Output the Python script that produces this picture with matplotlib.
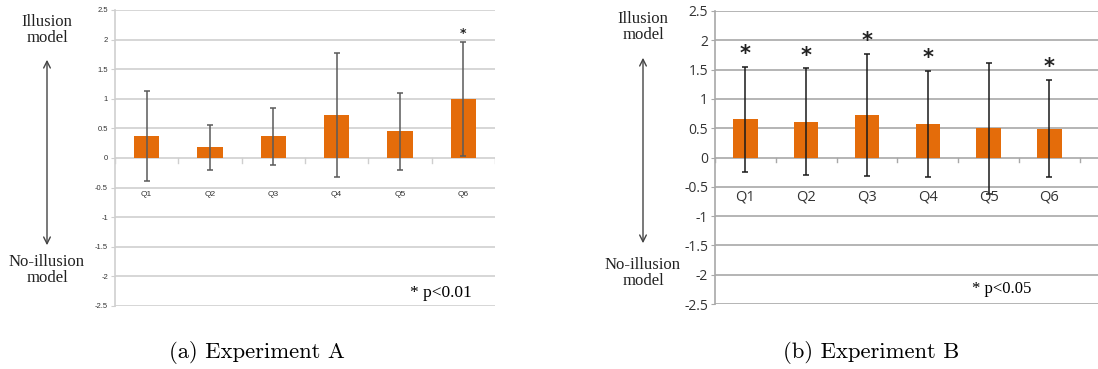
import numpy as np
import matplotlib
matplotlib.use("Agg")
from matplotlib import pyplot as plt

# data
questions = ["Q1", "Q2", "Q3", "Q4", "Q5", "Q6"]
meansA = [0.37, 0.18, 0.37, 0.73, 0.45, 1.0]
errA = [0.76, 0.38, 0.48, 1.05, 0.65, 0.96]
sigA = [False, False, False, False, False, True]
meansB = [0.65, 0.61, 0.72, 0.57, 0.50, 0.49]
errB = [0.89, 0.91, 1.04, 0.91, 1.12, 0.83]
sigB = [True, True, True, True, False, True]
yticks = [2.5, 2, 1.5, 1, 0.5, 0, -0.5, -1, -1.5, -2, -2.5]

barColor = "#e46c0a"
W, H = 1098, 369
fig = plt.figure(figsize=(W/100, H/100), dpi=100)
fig.set_facecolor("white")

def fx(px):
    return px/W

def fy(py):
    return 1 - py/H

def drawPanel(rect, means, errs, sig, xmax, gridColor, errColor, tickSize, labelSize,
              starSize, starOffset, labelY, tickFont):
    ax = fig.add_axes(rect)
    x = np.arange(len(questions))
    ax.set_xlim(-0.5, xmax)
    ax.set_ylim(-2.5, 2.5)
    for t in yticks:
        ax.axhline(t, color=gridColor, lw=1.2, zorder=0)
    ax.bar(x, means, width=0.4, color=barColor, zorder=2)
    ax.errorbar(x, means, yerr=errs, fmt="none", ecolor=errColor, elinewidth=1.1,
                capsize=2.5, capthick=1.1, zorder=3)
    for xi, m, e, s in zip(x, means, errs, sig):
        if s:
            ax.text(xi, m+e+starOffset, "*", ha="center", va="center",
                    fontsize=starSize, fontweight="bold", color="#222222")
        ax.text(xi, labelY, questions[xi], ha="center", va="top", fontsize=labelSize,
                family=tickFont, color="#333333")
    # small category separator ticks below the zero line
    for b in np.arange(len(questions)+1) - 0.5:
        ax.plot([b, b], [0, -0.08], color=gridColor, lw=1, zorder=1)
    for s in ["top", "right", "bottom"]:
        ax.spines[s].set_visible(False)
    ax.spines["left"].set_color(gridColor)
    ax.spines["left"].set_linewidth(1.2)
    ax.set_xticks([])
    ax.set_yticks(yticks)
    ax.set_yticklabels([("%g" % t) for t in yticks], fontsize=tickSize, family=tickFont,
                       color="#333333")
    ax.tick_params(axis="y", length=3, color=gridColor, pad=2)
    return ax

# Experiment A
axA = drawPanel([fx(115), fy(306), fx(495-115), (306-10)/H], meansA, errA, sigA, 5.5,
                "#cfcfcf", "#5a5a5a", 5.5, 6, 9, 0.15, -0.55, "Liberation Sans")
# Experiment B
axB = drawPanel([fx(715), fy(304), fx(W-715), (304-11)/H], meansB, errB, sigB,
                (W-715)/60.8 - 0.5, "#a8a8a8", "#1a1a1a", 10, 10.5, 15, 0.22, -0.55,
                "Open Sans")

serif = "Liberation Serif"
for cx, top, bot, arrTop, arrBot, fs in [(47, 30, 270, 57, 248, 12), (643, 27, 273, 55, 246, 12)]:
    fig.text(fx(cx), fy(top), "Illusion\nmodel", ha="center", va="center", fontsize=fs,
             family=serif, linespacing=1.05, color="#222222")
    fig.text(fx(cx), fy(bot), "No-illusion\nmodel", ha="center", va="center", fontsize=fs,
             family=serif, linespacing=1.05, color="#222222")
    fig.add_artist(matplotlib.patches.FancyArrowPatch(
        (fx(cx), fy(arrTop)), (fx(cx), fy(arrBot)), transform=fig.transFigure,
        arrowstyle="<->", mutation_scale=12, color="#444444", lw=1))

fig.text(fx(441), fy(293), "* p<0.01", ha="center", va="center", fontsize=12.5, family=serif)
fig.text(fx(1002), fy(289), "* p<0.05", ha="center", va="center", fontsize=12, family=serif)

fig.text(fx(257), fy(352), "(a) Experiment A", ha="center", va="center", fontsize=16.3, family="cmr10")
fig.text(fx(871), fy(352), "(b) Experiment B", ha="center", va="center", fontsize=16.3, family="cmr10")

fig.savefig("out.png", dpi=100)
